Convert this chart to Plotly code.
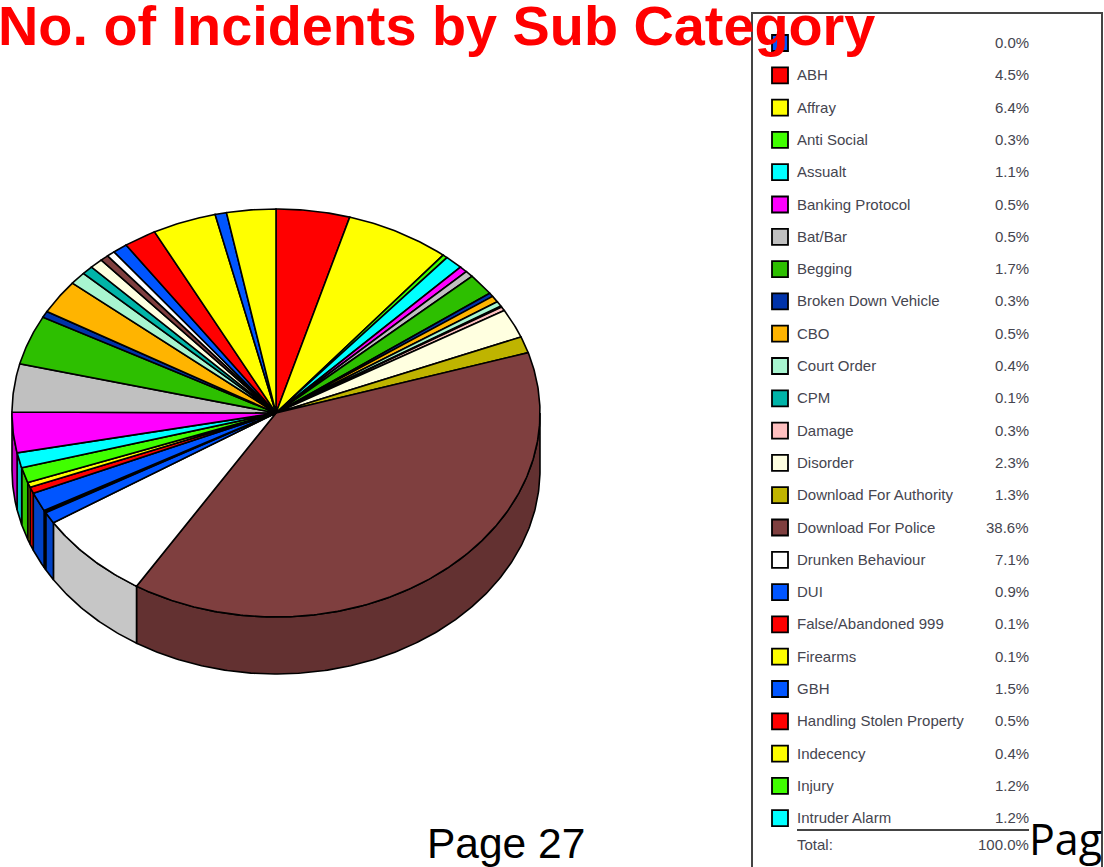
import math
import plotly.graph_objects as go

legend_labels = ["", "ABH", "Affray", "Anti Social", "Assualt", "Banking Protocol", "Bat/Bar", "Begging",
                 "Broken Down Vehicle", "CBO", "Court Order", "CPM", "Damage", "Disorder",
                 "Download For Authority", "Download For Police", "Drunken Behaviour", "DUI",
                 "False/Abandoned 999", "Firearms", "GBH", "Handling Stolen Property", "Indecency",
                 "Injury", "Intruder Alarm"]
legend_values = [0.0, 4.5, 6.4, 0.3, 1.1, 0.5, 0.5, 1.7, 0.3, 0.5, 0.4, 0.1, 0.3, 2.3, 1.3, 38.6, 7.1,
                 0.9, 0.1, 0.1, 1.5, 0.5, 0.4, 1.2, 1.2]
legend_colors = ["#0055FF", "#FF0000", "#FFFF00", "#40FF00", "#00FFFF", "#FF00FF", "#C0C0C0", "#2DBF00",
                 "#0033AA", "#FFB400", "#A8F5D0", "#00B4A8", "#FFC0C0", "#FFFFE0", "#BFB400", "#7F3F3F",
                 "#FFFFFF", "#0055FF", "#FF0000", "#FFFF00", "#0055FF", "#FF0000", "#FFFF00", "#40FF00",
                 "#00FFFF"]
# Slices whose legend rows fall below the cropped page (sizes)
offpage_values = [3.2, 3.8, 3.9, 0.5, 2.7, 1.0, 0.7, 0.8, 0.5, 0.5, 0.9, 2.0, 3.9, 0.7, 3.0]
offpage_colors = ["#FF00FF", "#C0C0C0", "#2DBF00", "#0033AA", "#FFB400", "#A8F5D0", "#00B4A8", "#FFFFE0",
                  "#7F3F3F", "#FFFFFF", "#0055FF", "#FF0000", "#FFFF00", "#0055FF", "#FFFF00"]
total_label = "100.0%"

CX, CY, RX, RY, DEPTH = 276, 413, 264, 204, 57
SHADE = 0.78


def darker(c):
    return "#" + "".join(f"{int(int(c[i:i+2], 16) * SHADE):02X}" for i in (1, 3, 5))


def rim(t, dy=0):
    return CX + RX * math.sin(t), CY - RY * math.cos(t) + dy


def arc(a, b, dy=0):
    n = max(2, int(abs(b - a) / 0.01))
    return [rim(a + (b - a) * k / n, dy) for k in range(n + 1)]


values = legend_values + offpage_values
colors = legend_colors + offpage_colors
total = sum(values)

fig = go.Figure()
edge = dict(color="#000000", width=1.6)

spans = []
acc = 0.0
for v in values:
    spans.append((2 * math.pi * acc / total, 2 * math.pi * (acc + v) / total))
    acc += v

# side wall of the front half
front_a, front_b = math.pi / 2, 3 * math.pi / 2
for (a, b), c in zip(spans, colors):
    lo, hi = max(a, front_a), min(b, front_b)
    if hi <= lo:
        continue
    pts = arc(lo, hi) + arc(hi, lo, DEPTH)
    pts.append(pts[0])
    fig.add_trace(go.Scatter(x=[p[0] for p in pts], y=[p[1] for p in pts], mode="lines", fill="toself",
                             fillcolor=darker(c), line=edge, hoverinfo="skip", showlegend=False))

# top face
for (a, b), c in zip(spans, colors):
    if b <= a:
        continue
    pts = [(CX, CY)] + arc(a, b) + [(CX, CY)]
    fig.add_trace(go.Scatter(x=[p[0] for p in pts], y=[p[1] for p in pts], mode="lines", fill="toself",
                             fillcolor=c, line=edge, hoverinfo="skip", showlegend=False))

# legend
ROW0, STEP = 43, 32.3
rows = [ROW0 + i * STEP for i in range(len(legend_labels))]
fig.add_trace(go.Scatter(x=[780] * len(rows), y=rows, mode="markers",
                         marker=dict(symbol="square", size=16, color=legend_colors,
                                     line=dict(color="#000000", width=1.8)),
                         hoverinfo="skip", showlegend=False))

ann = []
LEG = dict(family="Liberation Sans", size=15, color="#45454F")
for y, lab, v in zip(rows, legend_labels, legend_values):
    if lab:
        ann.append(dict(x=795, y=y - 0.5, text=lab, xanchor="left", yanchor="middle", showarrow=False, font=LEG))
    ann.append(dict(x=1031, y=y - 0.5, text=f"{v:.1f}%", xanchor="right", yanchor="middle", showarrow=False, font=LEG))
ann.append(dict(x=795, y=844, text="Total:", xanchor="left", yanchor="middle", showarrow=False, font=LEG))
ann.append(dict(x=1031, y=844, text=total_label, xanchor="right", yanchor="middle", showarrow=False, font=LEG))
ann.append(dict(x=0, xshift=-4, y=25, text="<b>No. of Incidents by Sub Category</b>", xanchor="left", yanchor="middle",
                showarrow=False, font=dict(family="Liberation Sans", size=55.8, color="#FF0000")))
ann.append(dict(x=425, y=843, text="Page 27", xanchor="left", yanchor="middle", showarrow=False,
                font=dict(family="Liberation Sans", size=42.5, color="#000000")))
ann.append(dict(x=1027, y=838, text="Page", xanchor="left", yanchor="middle", showarrow=False,
                font=dict(family="Open Sans", size=43, color="#000000")))

shapes = [
    dict(type="rect", x0=752, x1=1102, y0=13, y1=900, line=dict(color="#444444", width=2), layer="below"),
    dict(type="line", x0=797, x1=1029, y0=830, y1=830, line=dict(color="#444444", width=2)),
]

fig.update_layout(
    width=1104, height=867, margin=dict(l=0, r=0, t=0, b=0),
    paper_bgcolor="#FFFFFF", plot_bgcolor="#FFFFFF", showlegend=False,
    xaxis=dict(range=[0, 1104], visible=False, fixedrange=True),
    yaxis=dict(range=[867, 0], visible=False, fixedrange=True),
    annotations=ann, shapes=shapes,
)
fig.write_html("out.html", config={"displayModeBar": False},
               post_script="document.body.style.margin='0';document.body.style.overflow='hidden';")
